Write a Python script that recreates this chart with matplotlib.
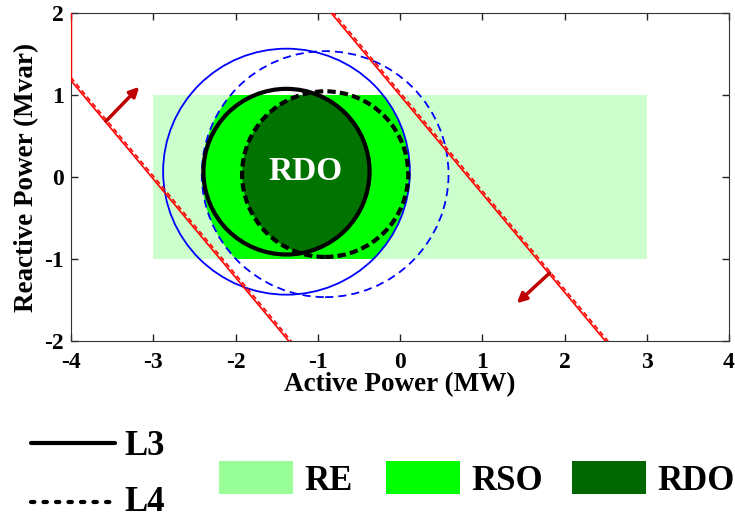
import numpy as np
import matplotlib
matplotlib.use("Agg")
from matplotlib import pyplot as plt
from matplotlib.patches import Circle, Rectangle, PathPatch
from matplotlib.path import Path
from matplotlib.transforms import Bbox

plt.rcParams['font.family'] = ['Liberation Serif', 'DejaVu Serif']
plt.rcParams['font.weight'] = 'bold'
plt.rcParams['axes.labelweight'] = 'bold'
plt.rcParams['axes.unicode_minus'] = False

# operating region limits (MW, Mvar)
re_p = [-3.0, 3.0]
re_q = [-1.0, 1.0]

# capability circles for L3 (solid) and L4 (dashed)
l3_center = (-1.38, 0.065)
l4_center = (-0.91, 0.035)
r_outer = 1.5
r_inner = 1.01

# voltage constraint lines q = slope * (p - p0)
line_slope = -1.2
left_p0 = [-3.02, -2.99]    # solid, dashed
right_p0 = [0.83, 0.86]     # solid, dashed

# direction arrows (tail, head)
arrow_tails = [(-3.575, 0.68), (1.82, -1.17)]
arrow_heads = [(-3.17, 1.10), (1.42, -1.54)]

x_ticks = [-4, -3, -2, -1, 0, 1, 2, 3, 4]
y_ticks = [-2, -1, 0, 1, 2]

c_re = '#ccffcc'
c_rso = '#00ff00'
c_rdo = '#007300'

fig = plt.figure(figsize=(7.35, 5.19), dpi=100)
ax = fig.add_axes([71 / 735, 1 - 341 / 519, 658 / 735, 328 / 519])
ax.set_xlim(-4, 4)
ax.set_ylim(-2, 2)

re_bbox = Bbox([[re_p[0], re_q[0]], [re_p[1], re_q[1]]])


def circle_poly(center, r, n=721):
    t = np.linspace(0, 2 * np.pi, n)
    verts = np.column_stack([center[0] + r * np.cos(t), center[1] + r * np.sin(t)])
    return Path(verts, closed=True)


def overlap_patch(c1, c2, r, color, z):
    # c1 circle, cut to the RE box, then clipped by c2 circle
    p = circle_poly(c1, r).clip_to_bbox(re_bbox)
    patch = PathPatch(p, facecolor=color, edgecolor='none', zorder=z)
    ax.add_patch(patch)
    clip = Circle(c2, r, transform=ax.transData)
    patch.set_clip_path(clip)


ax.add_patch(Rectangle((re_p[0], re_q[0]), re_p[1] - re_p[0], re_q[1] - re_q[0],
                       facecolor=c_re, edgecolor='none', zorder=1))
overlap_patch(l3_center, l4_center, r_outer, c_rso, 2)
overlap_patch(l3_center, l4_center, r_inner, c_rdo, 3)

ax.add_patch(Circle(l3_center, r_outer, fill=False, ec='#0000ff', lw=1.3, zorder=4))
ax.add_patch(Circle(l4_center, r_outer, fill=False, ec='#0000ff', lw=1.3,
                    ls=(0, (4.5, 2.8)), zorder=4))
ax.add_patch(Circle(l3_center, r_inner, fill=False, ec='black', lw=3, zorder=5))
ax.add_patch(Circle(l4_center, r_inner, fill=False, ec='black', lw=3,
                    ls=(0, (2, 1)), zorder=5))

px = np.array([-4.0, 4.0])
for p0s in (left_p0, right_p0):
    ax.plot(px, line_slope * (px - p0s[0]), color='red', lw=1.2, zorder=6)
    ax.plot(px, line_slope * (px - p0s[1]), color='red', lw=1.2,
            ls=(0, (3, 2)), zorder=6)
ax.plot([-4, -4], [line_slope * (-4 - left_p0[0]), 2], color='red', lw=1.0, zorder=6)

for tail, head in zip(arrow_tails, arrow_heads):
    ax.annotate('', xy=head, xytext=tail, zorder=7,
                arrowprops=dict(arrowstyle='-|>', color='#c00000', lw=2.5,
                                mutation_scale=14, shrinkA=0, shrinkB=0))

ax.text(-1.15, 0.07, 'RDO', color='white', fontsize=24, ha='center', va='center',
        zorder=8)

ax.set_xticks(x_ticks)
ax.set_yticks(y_ticks)
ax.tick_params(direction='in', length=5, width=1, top=True, right=True,
               colors='#222222')
ax.tick_params(axis='x', pad=8)
ax.tick_params(axis='y', pad=5)
ax.set_xticklabels([str(v) for v in x_ticks], fontsize=17, fontweight='bold',
                   color='black')
ax.set_yticklabels([str(v) for v in y_ticks], fontsize=17, fontweight='bold',
                   color='black')
for s in ax.spines.values():
    s.set_color('#333333')
ax.set_xlabel('Active Power (MW)', fontsize=19.5, labelpad=-1)
ax.set_ylabel('Reactive Power (Mvar)', fontsize=19.5, labelpad=4)

# legend drawn in pixel coordinates below the axes
lax = fig.add_axes([0, 0, 1, 110 / 519])
lax.set_xlim(0, 735)
lax.set_ylim(519, 409)
lax.axis('off')
lax.plot([31, 115], [443, 443], color='black', lw=3, solid_capstyle='round')
lax.plot([31, 115], [502, 502], color='black', lw=3, ls=(0, (0.8, 2.2)),
         dash_capstyle='round')
lax.text(124, 455, 'L3', fontsize=25, va='baseline')
lax.text(124, 511, 'L4', fontsize=25, va='baseline')

leg_labels = ['RE', 'RSO', 'RDO']
leg_colors = ['#99ff99', '#00ff00', '#006600']
leg_x = [219, 386, 572]
for lx, lc, lt in zip(leg_x, leg_colors, leg_labels):
    lax.add_patch(Rectangle((lx, 461), 74, 33, facecolor=lc, edgecolor='none'))
    lax.text(lx + 85, 490, lt, fontsize=25, va='baseline')

fig.savefig('out.png', dpi=100)
